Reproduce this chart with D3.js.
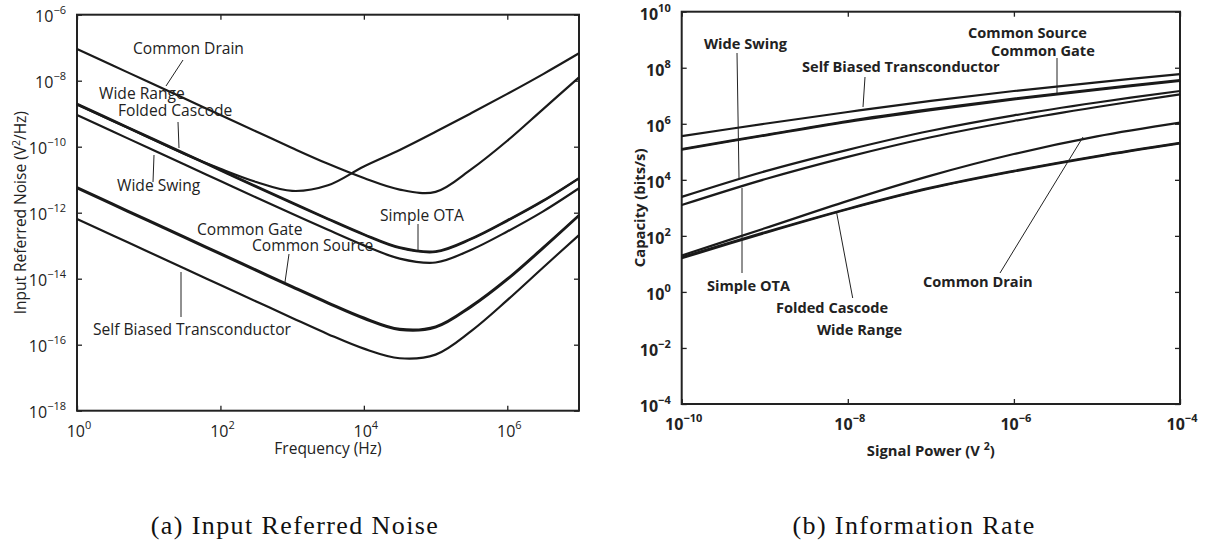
<!DOCTYPE html>
<html><head><meta charset="utf-8">
<script src="https://cdn.jsdelivr.net/npm/d3@7"></script>
<style>body{margin:0;background:#fff} svg{display:block}</style>
</head><body>
<svg id="chart" width="1224" height="548"></svg>
<script>
// ---------- (a) Input referred noise: values are log10(V^2/Hz) ----------
const freqHz = [1, 3.162, 10, 31.62, 100, 316.2, 1000, 3162, 1e4, 31623, 1e5, 316228, 1e6, 3162278, 1e7];
const noiseCommonDrain   = [-7.04,-7.54,-8.04,-8.54,-9.04,-9.54,-10.04,-10.52,-10.95,-11.30,-11.37,-10.68,-9.82,-8.86,-7.90];
const noiseWideRange     = [-8.72,-9.22,-9.72,-10.22,-10.67,-11.07,-11.34,-11.17,-10.60,-10.10,-9.55,-8.98,-8.40,-7.80,-7.17];
const noiseFoldedCascode = [-8.72,-9.22,-9.72,-10.22,-10.72,-11.22,-11.71,-12.20,-12.67,-13.07,-13.19,-12.80,-12.25,-11.65,-10.96];
const noiseSimpleOTA     = [-8.70,-9.20,-9.70,-10.20,-10.70,-11.20,-11.69,-12.18,-12.65,-13.05,-13.17,-12.78,-12.23,-11.63,-10.95];
const noiseWideSwing     = [-9.04,-9.54,-10.04,-10.54,-11.04,-11.54,-12.03,-12.52,-12.99,-13.39,-13.51,-13.12,-12.57,-11.96,-11.26];
const noiseCommonGate    = [-11.23,-11.73,-12.23,-12.73,-13.23,-13.73,-14.23,-14.72,-15.18,-15.52,-15.45,-14.82,-14.00,-13.05,-12.07];
const noiseCommonSource  = [-11.26,-11.76,-12.26,-12.76,-13.26,-13.76,-14.26,-14.75,-15.21,-15.55,-15.48,-14.85,-14.03,-13.08,-12.09];
const noiseSelfBiased    = [-12.19,-12.69,-13.19,-13.69,-14.19,-14.69,-15.19,-15.68,-16.12,-16.41,-16.30,-15.58,-14.65,-13.66,-12.68];
const noiseXTickExp = [0, 2, 4, 6];
const noiseYTickExp = [-6, -8, -10, -12, -14, -16, -18];

// ---------- (b) Information rate: values are log10(bits/s) ----------
const signalPowerV2 = [1e-10, 1e-9, 1e-8, 1e-7, 1e-6, 1e-5, 1e-4];
const capSelfBiased    = [5.56, 6.00, 6.42, 6.82, 7.17, 7.48, 7.77];
const capCommonSource  = [5.10, 5.60, 6.10, 6.52, 6.90, 7.24, 7.56];
const capCommonGate    = [5.08, 5.58, 6.07, 6.49, 6.87, 7.21, 7.53];
const capWideSwing     = [3.39, 4.30, 5.07, 5.75, 6.30, 6.76, 7.17];
const capSimpleOTA     = [3.10, 4.02, 4.82, 5.52, 6.10, 6.60, 7.05];
const capCommonDrain   = [1.30, 2.27, 3.25, 4.15, 4.92, 5.55, 6.04];
const capFoldedCascode = [1.20, 2.10, 2.95, 3.70, 4.30, 4.83, 5.30];
const capWideRange     = [1.24, 2.13, 2.97, 3.72, 4.32, 4.85, 5.32];
const capXTickExp = [-10, -8, -6, -4];
const capYTickExp = [10, 8, 6, 4, 2, 0, -2, -4];

const noiseSeries = [noiseCommonDrain, noiseWideRange, noiseFoldedCascode, noiseSimpleOTA,
  noiseWideSwing, noiseCommonGate, noiseCommonSource, noiseSelfBiased];
const capSeries = [capSelfBiased, capCommonSource, capCommonGate, capWideSwing,
  capSimpleOTA, capCommonDrain, capFoldedCascode, capWideRange];

const svg = d3.select('#chart');
const minus = n => (n < 0 ? '\u2212' + (-n) : String(n));

function panel(opt) {
  const g = svg.append('g').attr('font-family', opt.font).attr('font-weight', opt.weight).attr('fill', '#222');
  const x = d3.scaleLog().domain(opt.xDomain).range([opt.left, opt.right]);
  const y = d3.scaleLog().domain(opt.yDomain).range([opt.bottom, opt.top]);
  const xt = opt.xTicks.map(e => Math.pow(10, e));
  const yt = opt.yTicks.map(e => Math.pow(10, e));
  const ax = (gen, tr) => g.append('g').attr('transform', tr).call(gen)
    .call(s => { s.select('.domain').remove(); s.selectAll('line').attr('stroke', '#222').attr('stroke-width', 1.3); s.selectAll('text').remove(); });
  ax(d3.axisBottom(x).tickValues(xt).tickSize(-5).tickSizeOuter(0), `translate(0,${opt.bottom})`);
  ax(d3.axisTop(x).tickValues(xt).tickSize(-5).tickSizeOuter(0), `translate(0,${opt.top})`);
  ax(d3.axisLeft(y).tickValues(yt).tickSize(-5).tickSizeOuter(0), `translate(${opt.left},0)`);
  ax(d3.axisRight(y).tickValues(yt).tickSize(-5).tickSizeOuter(0), `translate(${opt.right},0)`);
  g.append('rect').attr('x', opt.left).attr('y', opt.top).attr('width', opt.right - opt.left)
    .attr('height', opt.bottom - opt.top).attr('fill', 'none').attr('stroke', '#222').attr('stroke-width', 2);

  // tick labels
  opt.xTicks.forEach(e => {
    const t = g.append('text').attr('x', x(Math.pow(10, e)) + 2).attr('y', opt.bottom + 26)
      .attr('text-anchor', 'middle').attr('font-size', opt.tickSize);
    t.append('tspan').text('10');
    t.append('tspan').attr('dy', -8).attr('font-size', opt.expSize).text(minus(e));
  });
  opt.yTicks.forEach(e => {
    const t = g.append('text').attr('x', opt.left - 11).attr('y', y(Math.pow(10, e)) + opt.yLabDy)
      .attr('text-anchor', 'end').attr('font-size', opt.tickSize);
    t.append('tspan').text('10');
    t.append('tspan').attr('dy', -8).attr('font-size', opt.expSize).text(minus(e));
  });

  // curves
  const line = d3.line().x(d => x(d[0])).y(d => y(Math.pow(10, d[1]))).curve(d3.curveCatmullRom.alpha(0.5));
  opt.series.forEach(s => {
    g.append('path').datum(opt.xs.map((v, i) => [v, s[i]])).attr('d', line)
      .attr('fill', 'none').attr('stroke', '#1a1a1a').attr('stroke-width', 2.2);
  });

  // annotations
  opt.notes.forEach(n => {
    g.append('text').attr('x', n.x).attr('y', n.y).attr('font-size', opt.noteSize).text(n.t);
  });
  opt.leaders.forEach(l => {
    g.append('line').attr('x1', l[0]).attr('y1', l[1]).attr('x2', l[2]).attr('y2', l[3])
      .attr('stroke', '#222').attr('stroke-width', 1);
  });

  // axis titles
  const xl = g.append('text').attr('x', (opt.left + opt.right) / 2).attr('y', opt.xTitleY)
    .attr('text-anchor', 'middle').attr('font-size', opt.titleSize);
  opt.xTitle(xl);
  const yl = g.append('text').attr('transform', `translate(${opt.yTitleX},${(opt.top + opt.bottom) / 2}) rotate(-90)`)
    .attr('text-anchor', 'middle').attr('font-size', opt.titleSize);
  opt.yTitle(yl);
  return g;
}

panel({
  font: "'Open Sans', sans-serif", weight: 400,
  left: 77, right: 579, top: 14.7, bottom: 410.7,
  xDomain: [1, 1e7], yDomain: [1e-18, 1e-6],
  xTicks: noiseXTickExp, yTicks: noiseYTickExp, yLabDy: 7,
  tickSize: 16, expSize: 11, noteSize: 15.6, titleSize: 15.5,
  xs: freqHz, series: noiseSeries,
  notes: [
    {t: 'Common Drain', x: 133, y: 54},
    {t: 'Wide Range', x: 99, y: 99},
    {t: 'Folded Cascode', x: 118, y: 116},
    {t: 'Wide Swing', x: 117, y: 191},
    {t: 'Simple OTA', x: 380, y: 221},
    {t: 'Common Gate', x: 197, y: 235},
    {t: 'Common Source', x: 252, y: 251},
    {t: 'Self Biased Transconductor', x: 93, y: 335}
  ],
  leaders: [[183, 60, 166, 86], [178, 122, 179, 148], [154, 155, 153, 182], [418, 224, 418, 250],
            [289, 254, 285, 282], [181, 272, 181, 317]],
  xTitleY: 454,
  xTitle: t => t.text('Frequency (Hz)'),
  yTitleX: 26,
  yTitle: t => { t.append('tspan').text('Input Referred Noise (V'); t.append('tspan').attr('dy', -6).attr('font-size', 10.5).text('2');
                 t.append('tspan').attr('dy', 6).text('/Hz)'); }
});

panel({
  font: "'Open Sans', sans-serif", weight: 700,
  left: 681.7, right: 1180, top: 11.7, bottom: 404,
  xDomain: [1e-10, 1e-4], yDomain: [1e-4, 1e10],
  xTicks: capXTickExp, yTicks: capYTickExp, yLabDy: 8,
  tickSize: 16, expSize: 11, noteSize: 14.6, titleSize: 14.8,
  xs: signalPowerV2, series: capSeries,
  notes: [
    {t: 'Wide Swing', x: 704, y: 49},
    {t: 'Self Biased Transconductor', x: 802, y: 72},
    {t: 'Common Source', x: 968, y: 38},
    {t: 'Common Gate', x: 991, y: 56},
    {t: 'Simple OTA', x: 707, y: 291},
    {t: 'Folded Cascode', x: 776, y: 313},
    {t: 'Wide Range', x: 817, y: 335},
    {t: 'Common Drain', x: 923, y: 287}
  ],
  leaders: [[737, 53, 739, 178], [865, 77, 863, 107], [1057, 58, 1057, 93], [742, 188, 742, 273],
            [836.7, 213, 852.7, 298], [1083, 137, 1000, 273]],
  xTitleY: 456,
  xTitle: t => { t.append('tspan').text('Signal Power (V '); t.append('tspan').attr('dy', -6).attr('font-size', 10.5).text('2');
                 t.append('tspan').attr('dy', 6).text(')'); },
  yTitleX: 645,
  yTitle: t => t.text('Capacity (bits/s)')
});

// captions
svg.append('text').attr('x', 295).attr('y', 534).attr('text-anchor', 'middle')
  .attr('font-family', "'Liberation Serif', serif").attr('font-size', 26).attr('letter-spacing', 1.4)
  .attr('fill', '#111').text('(a) Input Referred Noise');
svg.append('text').attr('x', 914).attr('y', 534).attr('text-anchor', 'middle')
  .attr('font-family', "'Liberation Serif', serif").attr('font-size', 26).attr('letter-spacing', 1.4)
  .attr('fill', '#111').text('(b) Information Rate');
</script>
</body></html>
